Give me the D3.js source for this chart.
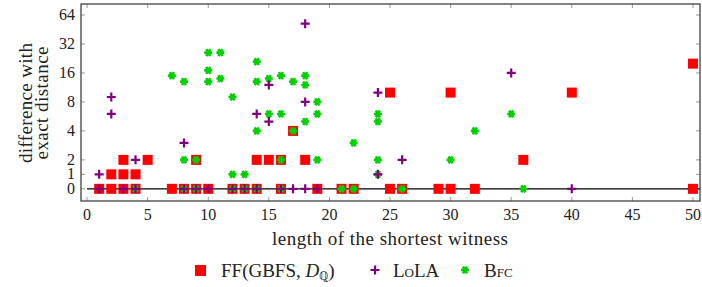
<!DOCTYPE html>
<html>
<head>
<meta charset="utf-8">
<script src="https://cdn.jsdelivr.net/npm/d3@7"></script>
<style>
body { margin:0; background:#fff; }
</style>
</head>
<body>
<svg id="chart" width="702" height="287"></svg>
<script>
// tick labels
var xTicks = [0,5,10,15,20,25,30,35,40,45,50];
var yTicks = [0,1,2,4,8,16,32,64];

// FF(GBFS, D_Q)
var ffX = [1,2,3,4,7,8,9,10,12,13,14,16,19,21,22,25,26,29,30,32,50, 2,3,4, 3,5,9,14,15,16,18,36, 17, 25,30,40, 50];
var ffY = [0,0,0,0,0,0,0,0,0,0,0,0,0,0,0,0,0,0,0,0,0, 1,1,1, 2,2,2,2,2,2,2,2, 4, 10,10,10, 20];

// LoLA
var lolaX = [1,3,4,8,9,10,12,13,14,16,17,18,19,40, 1,24, 4,26, 8, 15, 2,14, 18, 2, 24, 15, 35, 18];
var lolaY = [0,0,0,0,0,0,0,0,0,0,0,0,0,0, 1,1, 2,2, 3, 5, 6,6, 8, 9, 10, 12, 16, 52];

// Bfc
var bfcX = [4,8,9,12,13,14,16,21,22,26,36, 12,13,24, 8,9,16,19,24,30, 22, 14,17,32, 18,24, 15,16,19,24,35, 19, 12, 18, 8,10,14,17, 11,15, 7,16,18, 10, 14, 10,11];
var bfcY = [0,0,0,0,0,0,0,0,0,0,0, 1,1,1, 2,2,2,2,2,2, 3, 4,4,4, 5,5, 6,6,6,6,6, 8, 9, 12, 13,13,13,13, 14,14, 15,15,15, 17, 21, 26,26];

var svg = d3.select("#chart");
var pLeft = 81, pRight = 700, pTop = 4, pBottom = 201;
var txtCol = "#222";
var fam = "Liberation Serif";

// linear below 2, log2 above
function tr(v) { return v <= 2 ? v / 2 : Math.log2(v); }

var x = d3.scaleLinear().domain([-0.5, 50.58]).range([pLeft, pRight]);
var y = d3.scaleLinear().domain([-0.42, 6.38]).range([pBottom, pTop]);

function label(sel, size) {
  return sel.append("text").attr("font-family", fam).attr("font-size", size).attr("fill", txtCol);
}

var g = svg.append("g");

// ticks (inside, all four sides)
var tickCol = "#999";
xTicks.forEach(function(t) {
  g.append("line").attr("x1", x(t)).attr("x2", x(t)).attr("y1", pBottom).attr("y2", pBottom - 4)
    .attr("stroke", tickCol).attr("stroke-width", 1);
  g.append("line").attr("x1", x(t)).attr("x2", x(t)).attr("y1", pTop).attr("y2", pTop + 4)
    .attr("stroke", tickCol).attr("stroke-width", 1);
  label(g, 16).attr("x", x(t)).attr("y", 220).attr("text-anchor", "middle").text(t);
});
yTicks.forEach(function(t) {
  g.append("line").attr("x1", pLeft).attr("x2", pLeft + 4).attr("y1", y(tr(t))).attr("y2", y(tr(t)))
    .attr("stroke", tickCol).attr("stroke-width", 1);
  g.append("line").attr("x1", pRight).attr("x2", pRight - 4).attr("y1", y(tr(t))).attr("y2", y(tr(t)))
    .attr("stroke", tickCol).attr("stroke-width", 1);
  label(g, 16).attr("x", 75).attr("y", y(tr(t)) + 5).attr("text-anchor", "end").text(t);
});

// zero line
g.append("line").attr("x1", x(0)).attr("x2", pRight).attr("y1", y(0)).attr("y2", y(0))
  .attr("stroke", "#000").attr("stroke-width", 1.2);

// frame
g.append("rect").attr("x", pLeft).attr("y", pTop).attr("width", pRight - pLeft).attr("height", pBottom - pTop)
  .attr("fill", "none").attr("stroke", "#333").attr("stroke-width", 1.2);

// markers
var sq = 10;
g.selectAll(".ff").data(d3.range(ffX.length)).enter().append("rect")
  .attr("x", function(i) { return x(ffX[i]) - sq / 2; })
  .attr("y", function(i) { return y(tr(ffY[i])) - sq / 2; })
  .attr("width", sq).attr("height", sq).attr("fill", "#ff0000");

var star = "M-4,0H4M-2,-3.46L2,3.46M-2,3.46L2,-3.46";
function drawStar(sel) {
  sel.append("path").attr("d", star)
    .attr("stroke", "#00d000").attr("stroke-width", 2.6).attr("fill", "none");
  sel.append("circle").attr("r", 2.4).attr("fill", "#00d000");
}
g.selectAll(".bfc").data(d3.range(bfcX.length)).enter().append("g")
  .attr("transform", function(i) { return "translate(" + x(bfcX[i]) + "," + y(tr(bfcY[i])) + ")"; })
  .call(drawStar);

var plusPath = "M-4.5,0H4.5M0,-4.5V4.5";
g.selectAll(".lola").data(d3.range(lolaX.length)).enter().append("path")
  .attr("d", plusPath)
  .attr("transform", function(i) { return "translate(" + x(lolaX[i]) + "," + y(tr(lolaY[i])) + ")"; })
  .attr("stroke", "#800080").attr("stroke-width", 2.2).attr("fill", "none");

// axis labels
label(svg, 19).attr("x", 390).attr("y", 245).attr("text-anchor", "middle")
  .attr("textLength", 236).attr("lengthAdjust", "spacing")
  .text("length of the shortest witness");
label(svg, 19).attr("transform", "translate(32,103) rotate(-90)").attr("text-anchor", "middle")
  .attr("textLength", 120).attr("lengthAdjust", "spacing")
  .text("difference with");
label(svg, 19).attr("transform", "translate(48,103) rotate(-90)").attr("text-anchor", "middle")
  .attr("textLength", 113).attr("lengthAdjust", "spacing")
  .text("exact distance");

// legend
var leg = svg.append("g");
leg.append("rect").attr("x", 195).attr("y", 265).attr("width", 11).attr("height", 11).attr("fill", "#ff0000");
var t1 = label(leg, 19).attr("x", 221).attr("y", 277);
t1.append("tspan").text("FF(GBFS, ");
t1.append("tspan").attr("font-style", "italic").text("D");
t1.append("tspan").attr("font-size", 12).attr("dy", 3).text("\u211A");
t1.append("tspan").attr("dy", -3).text(")");
leg.append("path").attr("d", plusPath).attr("transform", "translate(375,270)")
  .attr("stroke", "#800080").attr("stroke-width", 2.2);
label(leg, 19).attr("x", 393).attr("y", 277)
  .style("font-variant", "small-caps").text("LoLA");
leg.append("g").attr("transform", "translate(465,270)").call(drawStar);
label(leg, 19).attr("x", 484).attr("y", 277)
  .style("font-variant", "small-caps").text("Bfc");
</script>
</body>
</html>
